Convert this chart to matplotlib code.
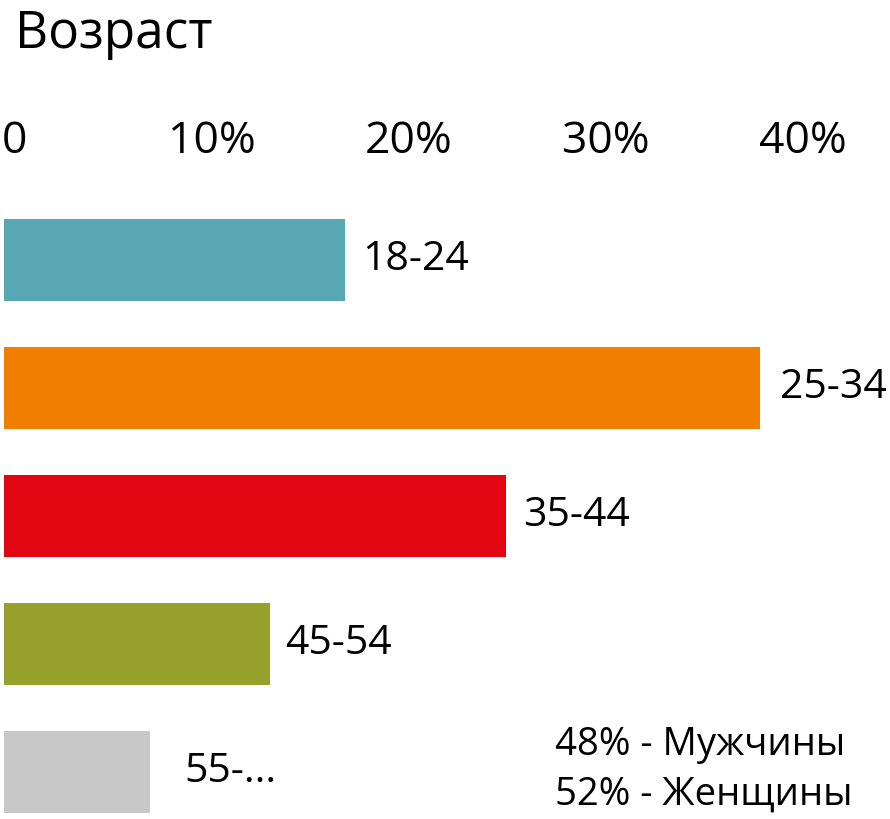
import matplotlib.pyplot as plt

plt.rcParams['font.family'] = ['Open Sans', 'DejaVu Sans']

title = 'Возраст'
groups = ['18-24', '25-34', '35-44', '45-54', '55-...']
shares = [17.3, 38.4, 25.5, 13.5, 7.4]
colors = ['#58A8B4', '#F07F00', '#E20613', '#95A12B', '#C8C8C8']
ticks = [0, 10, 20, 30, 40]
tick_labels = ['0', '10%', '20%', '30%', '40%']
gender = ['48% - Мужчины', '52% - Женщины']

fig = plt.figure(figsize=(8.9, 8.19), dpi=100)
ax = fig.add_axes([0, 0, 1, 1])

# pixel mapping: 0% at x=4px, 19.7 px per %; bar rows 128 px apart, first centred at y=260
px = 19.7
ax.set_xlim(-4 / px, (890 - 4) / px)
ax.set_ylim((819 - 260) / 128, -260 / 128)
ax.axis('off')

y = list(range(len(groups)))
ax.barh(y, shares, height=0.64, color=colors)

gaps = [0.86, 1.0, 0.86, 0.76, 1.78]
for i, (g, v) in enumerate(zip(groups, shares)):
    ax.text(v + gaps[i], i, g, va='center', ha='left', fontsize=29.5)

for t, lab in zip(ticks, tick_labels):
    ax.text(t + 0.55, (142 - 260) / 128, lab, ha='center', va='center', fontsize=32)

ax.text(0.55, (35 - 260) / 128, title, ha='left', va='center', fontsize=37)

for k, s in enumerate(gender):
    ax.text(27.95, (745 - 260) / 128 + k * 50 / 128, s, ha='left', va='center', fontsize=27.5)

fig.savefig('out.png', dpi=100)
